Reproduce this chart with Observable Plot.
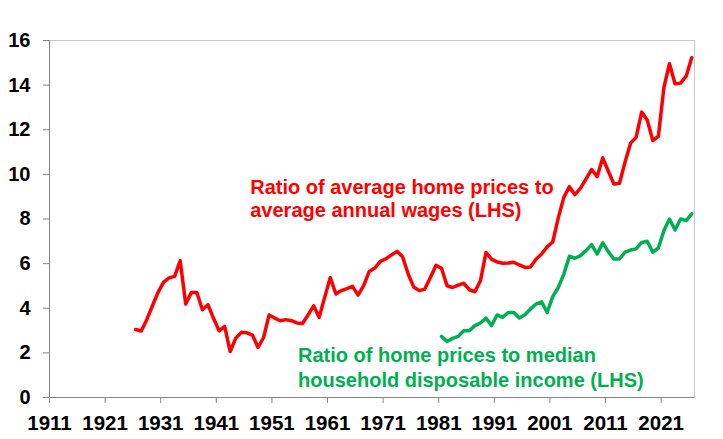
<!DOCTYPE html>
<html>
<head>
<meta charset="utf-8">
<script src="https://cdn.jsdelivr.net/npm/d3@7"></script>
<script src="https://cdn.jsdelivr.net/npm/@observablehq/plot@0.6"></script>
<style>
  html, body { margin: 0; padding: 0; background: #fff; }
  #chart svg { display: block; }
</style>
</head>
<body>
<div id="chart"></div>
<script>
// Ratio of average home prices to average annual wages (LHS), 1926–2026
const wageYears = d3.range(1926, 2027);
const wageRatio = [
  3.05, 2.98, 3.5, 4.1, 4.7, 5.16, 5.36, 5.43, 6.13, 4.19,
  4.71, 4.71, 3.93, 4.16, 3.55, 2.99, 3.19, 2.06, 2.66, 2.92,
  2.9, 2.8, 2.24, 2.69, 3.7, 3.56, 3.44, 3.49, 3.44, 3.34,
  3.32, 3.7, 4.11, 3.59, 4.5, 5.38, 4.64, 4.79, 4.88, 4.98,
  4.59, 5.01, 5.65, 5.8, 6.1, 6.21, 6.39, 6.55, 6.31, 5.54,
  4.95, 4.79, 4.86, 5.38, 5.92, 5.79, 5.01, 4.93, 5.04, 5.12,
  4.83, 4.74, 5.23, 6.5, 6.2, 6.07, 6.02, 6.03, 6.06, 5.94,
  5.83, 5.85, 6.2, 6.43, 6.75, 6.97, 8.05, 8.97, 9.45, 9.09,
  9.38, 9.8, 10.22, 9.9, 10.74, 10.14, 9.57, 9.6, 10.54, 11.4,
  11.66, 12.79, 12.44, 11.52, 11.7, 13.9, 14.96, 14.06, 14.09, 14.4,
  15.23
];

// Ratio of home prices to median household disposable income (LHS), 1981–2026
const incomeYears = d3.range(1981, 2027);
const incomeRatio = [
  2.74, 2.51, 2.65, 2.74, 2.99, 2.99, 3.22, 3.34, 3.56, 3.22,
  3.7, 3.59, 3.81, 3.81, 3.56, 3.71, 3.97, 4.19, 4.29, 3.81,
  4.52, 4.93, 5.53, 6.33, 6.24, 6.36, 6.58, 6.85, 6.43, 6.93,
  6.54, 6.21, 6.21, 6.51, 6.61, 6.66, 6.95, 7.0, 6.51, 6.7,
  7.48, 8.0, 7.51, 8.0, 7.93, 8.23
];

const xTickLabels = [1911, 1921, 1931, 1941, 1951, 1961, 1971, 1981, 1991, 2001, 2011, 2021];
const yTickLabels = [0, 2, 4, 6, 8, 10, 12, 14, 16];

const wageLabel = ["Ratio of average home prices to", "average annual wages (LHS)"];
const incomeLabel = ["Ratio of home prices to median", "household disposable income (LHS)"];

const wageData = wageYears.map((year, i) => ({year, value: wageRatio[i]}));
const incomeData = incomeYears.map((year, i) => ({year, value: incomeRatio[i]}));

const RED = "#ff0000";
const GREEN = "#00b050";
const AXIS = "#868686";

const chart = Plot.plot({
  width: 723,
  height: 439,
  marginLeft: 49,
  marginRight: 29,
  marginTop: 40,
  marginBottom: 42,
  style: {
    fontFamily: "'Liberation Sans', Arial, sans-serif",
    fontSize: "20px",
    fontWeight: "bold",
    color: "#000",
    background: "#fff"
  },
  x: { domain: [1911, 2027] },
  y: { domain: [0, 16] },
  marks: [
    Plot.frame({ stroke: "#c8c8c8" }),
    Plot.ruleX([1911], { stroke: AXIS }),
    Plot.ruleY([0], { stroke: AXIS }),
    Plot.axisX({
      ticks: xTickLabels,
      tickSize: 6,
      tickPadding: 12,
      stroke: AXIS,
      fontSize: 20.5,
      tickFormat: d => String(d),
      label: null
    }),
    Plot.axisY({
      ticks: yTickLabels,
      tickSize: 6,
      tickPadding: 13,
      stroke: AXIS,
      label: null
    }),
    Plot.line(wageData, {
      x: d => d.year + 0.5,
      y: "value",
      stroke: RED,
      strokeWidth: 3.5,
      strokeLinejoin: "round"
    }),
    Plot.line(incomeData, {
      x: d => d.year + 0.5,
      y: "value",
      stroke: GREEN,
      strokeWidth: 3.5,
      strokeLinejoin: "round"
    }),
    Plot.text([wageLabel[0]], { x: 1947.1, y: 9.41, text: d => d, textAnchor: "start", fill: RED, fontSize: 20, fontWeight: "bold" }),
    Plot.text([wageLabel[1]], { x: 1947.1, y: 8.37, text: d => d, textAnchor: "start", fill: RED, fontSize: 20, fontWeight: "bold" }),
    Plot.text([incomeLabel[0]], { x: 1955.7, y: 1.87, text: d => d, textAnchor: "start", fill: GREEN, fontSize: 20, fontWeight: "bold" }),
    Plot.text([incomeLabel[1]], { x: 1955.7, y: 0.75, text: d => d, textAnchor: "start", fill: GREEN, fontSize: 20, fontWeight: "bold" })
  ]
});

document.getElementById("chart").appendChild(chart);
</script>
</body>
</html>
